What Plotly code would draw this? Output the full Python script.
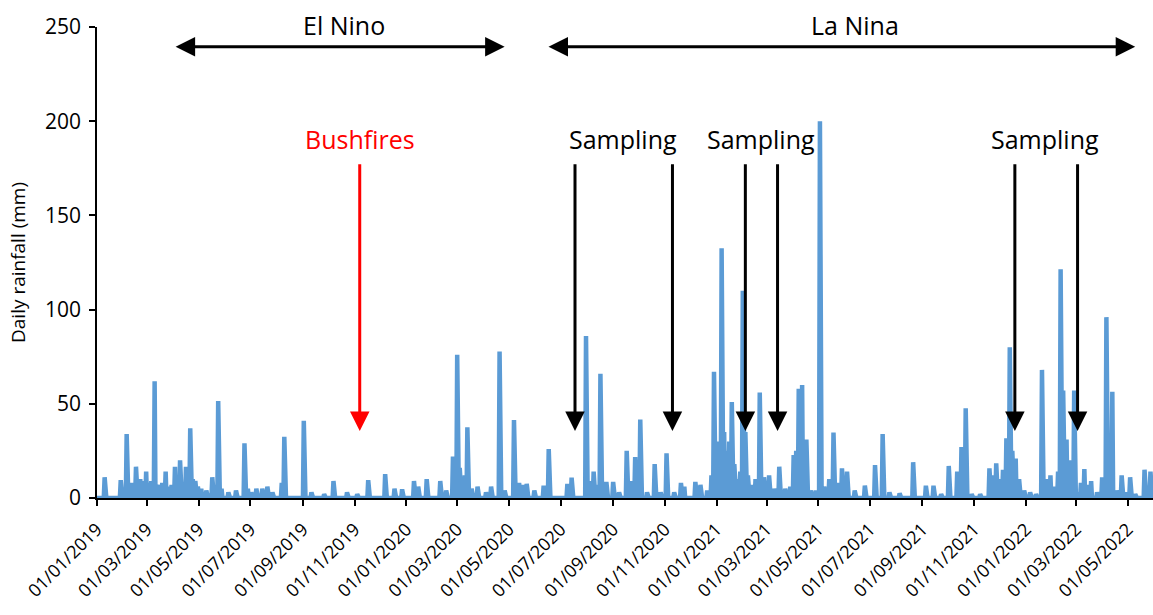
import pandas as pd
import plotly.graph_objects as go

# Rain events (dry days are 0 mm)
rain_dates = [
    "2019-01-10", "2019-01-29", "2019-02-05", "2019-02-08", "2019-02-11", "2019-02-13",
    "2019-02-16", "2019-02-19", "2019-02-21", "2019-02-24", "2019-02-28", "2019-03-03",
    "2019-03-06", "2019-03-10", "2019-03-13", "2019-03-16", "2019-03-19", "2019-03-23",
    "2019-03-27", "2019-03-30", "2019-04-03", "2019-04-06", "2019-04-09", "2019-04-12",
    "2019-04-16", "2019-04-21", "2019-04-24", "2019-04-27", "2019-04-30", "2019-05-04",
    "2019-05-10", "2019-05-17", "2019-05-24", "2019-05-28", "2019-06-05", "2019-06-14",
    "2019-06-24", "2019-06-28", "2019-07-02", "2019-07-08", "2019-07-15",
    "2019-07-21", "2019-07-27", "2019-08-07", "2019-08-10", "2019-09-02", "2019-09-11",
    "2019-09-26", "2019-10-07", "2019-10-23", "2019-11-04", "2019-11-17", "2019-12-07",
    "2019-12-18", "2019-12-27", "2020-01-10", "2020-01-15", "2020-01-25", "2020-02-10",
    "2020-02-17", "2020-02-25", "2020-02-28", "2020-03-01", "2020-03-04", "2020-03-07",
    "2020-03-10", "2020-03-13", "2020-03-18", "2020-03-25", "2020-04-04", "2020-04-10",
    "2020-04-20", "2020-04-26", "2020-05-07", "2020-05-10", "2020-05-13", "2020-05-17",
    "2020-05-22", "2020-05-31", "2020-06-11", "2020-06-17", "2020-07-09",
    "2020-07-14", "2020-07-31", "2020-08-04", "2020-08-09", "2020-08-13", "2020-08-17",
    "2020-08-24", "2020-09-01", "2020-09-08", "2020-09-17", "2020-09-22", "2020-09-27",
    "2020-10-03", "2020-10-11", "2020-10-20", "2020-10-27", "2020-11-03", "2020-11-12",
    "2020-11-20", "2020-11-24", "2020-12-07", "2020-12-13", "2020-12-21", "2020-12-26",
    "2020-12-29", "2021-01-02", "2021-01-04", "2021-01-07", "2021-01-10", "2021-01-12",
    "2021-01-14", "2021-01-16", "2021-01-19", "2021-01-22", "2021-01-26", "2021-01-29",
    "2021-02-01", "2021-02-04", "2021-02-07", "2021-02-11", "2021-02-16", "2021-02-21",
    "2021-02-26", "2021-03-04", "2021-03-10", "2021-03-16", "2021-03-23", "2021-03-29",
    "2021-04-02", "2021-04-05", "2021-04-08", "2021-04-12", "2021-04-15", "2021-04-17",
    "2021-04-22", "2021-04-28", "2021-05-03", "2021-05-08", "2021-05-14", "2021-05-19",
    "2021-05-24", "2021-05-29", "2021-06-04", "2021-06-13", "2021-06-25", "2021-07-07",
    "2021-07-16", "2021-07-24", "2021-08-05", "2021-08-21", "2021-09-05", "2021-09-14",
    "2021-09-23", "2021-10-02", "2021-10-12", "2021-10-17", "2021-10-22", "2021-10-29",
    "2021-11-08", "2021-11-19", "2021-11-23", "2021-11-27", "2021-12-01", "2021-12-05",
    "2021-12-09", "2021-12-13", "2021-12-16", "2021-12-20", "2021-12-24", "2021-12-30",
    "2022-01-06", "2022-01-13", "2022-01-20", "2022-01-26", "2022-01-30", "2022-02-04",
    "2022-02-08", "2022-02-11", "2022-02-14", "2022-02-18", "2022-02-21", "2022-02-23",
    "2022-02-27", "2022-03-03", "2022-03-07", "2022-03-11", "2022-03-15", "2022-03-19",
    "2022-03-26", "2022-04-01", "2022-04-06", "2022-04-09", "2022-04-13", "2022-04-18",
    "2022-04-24", "2022-04-29", "2022-05-04", "2022-05-10", "2022-05-21", "2022-05-28",
]
rain_mm = [
    11, 9.5, 34, 6, 8, 7,
    16.6, 8, 10, 9, 14, 8,
    9, 62, 7, 7, 8, 14,
    6, 7, 16.6, 9, 20, 8,
    16.6, 37, 10, 9, 6, 5,
    4, 11, 51.5, 5, 3, 4,
    29, 5, 3, 5, 5,
    6, 3, 8, 32.5, 41, 3,
    2, 9, 3, 2, 9.5, 12.7,
    5, 4.6, 9, 6, 10, 9,
    4, 22, 10, 76, 16, 8,
    12, 37.5, 5, 6, 3, 6,
    77.7, 4, 41.4, 7, 8, 7,
    7.5, 4, 6.6, 26, 7.5,
    10.8, 86, 9, 14, 7, 66,
    8.5, 8.5, 3, 25, 9, 21.7,
    41.7, 3, 18, 3, 23.7, 3,
    8, 6, 8.5, 7, 4, 12,
    67, 15, 30, 132.5, 35, 25,
    20, 30, 51, 18, 10, 14,
    110, 35, 12, 7, 10, 56,
    11, 12, 5, 16.6, 5, 6,
    22.8, 25, 58, 60, 30, 31,
    4, 4, 200, 6, 10, 34.7,
    8, 15.7, 14, 4, 6.6, 17.5,
    34, 3, 2.5, 19, 6.5, 6.5,
    2, 17, 14, 27, 47.6, 2,
    2, 15.7, 12, 18.4, 10, 15,
    31.7, 80, 25, 21, 10, 4,
    3, 2, 68, 10, 12, 6,
    14, 121.4, 57, 31, 20, 6,
    57, 3, 8, 15.4, 7, 9,
    3, 11, 96, 12, 56.4, 4,
    12, 3, 11, 2, 15, 14,
]

y_ticks = [0, 50, 100, 150, 200, 250]

period_labels = ["El Nino", "La Nina"]
period_label_dates = ["2019-10-20", "2021-06-13"]
period_spans = [("2019-04-02", "2020-04-26"), ("2020-06-15", "2022-05-10")]
sampling_dates = ["2020-07-18", "2020-11-10", "2021-02-04", "2021-03-14", "2021-12-19", "2022-03-03"]
sampling_label_dates = ["2020-09-13", "2021-02-22", "2022-01-24"]
bushfire_date = "2019-11-07"

# Daily series: days without a recorded event are dry (0 mm)
days = pd.date_range("2019-01-01", "2022-05-31", freq="D")
series = pd.Series(0.0, index=days)
series.loc[pd.to_datetime(rain_dates)] = rain_mm

FONT = "Open Sans"
BLUE = "#5B9BD5"
TXT = 25

fig = go.Figure()
fig.add_trace(go.Scatter(
    x=series.index, y=series.values, mode="lines",
    line=dict(color=BLUE, width=4.5), showlegend=False, hoverinfo="x+y",
))

ann = []
# Period double arrows
for lab, ld, (s, e) in zip(period_labels, period_label_dates, period_spans):
    ann.append(dict(x=e, y=239.5, ax=s, ay=239.5, xref="x", yref="y", axref="x", ayref="y",
                    showarrow=True, arrowhead=2, arrowsize=1.3, arrowwidth=3, arrowside="end+start",
                    arrowcolor="black", text=""))
    ann.append(dict(x=ld, y=1.005, xref="x", yref="paper", yanchor="middle", text=lab, showarrow=False,
                    font=dict(family=FONT, size=TXT, color="black")))

# Bushfires
ann.append(dict(x=bushfire_date, y=35.5, ax=bushfire_date, ay=178, xref="x", yref="y", axref="x", ayref="y",
                showarrow=True, arrowhead=2, arrowsize=1.3, arrowwidth=3, arrowcolor="#FF0000", text=""))
ann.append(dict(x=bushfire_date, y=190.5, xref="x", yref="y", text="Bushfires", showarrow=False,
                font=dict(family=FONT, size=TXT, color="#FF0000")))

# Sampling arrows
for d in sampling_dates:
    ann.append(dict(x=d, y=35.5, ax=d, ay=178, xref="x", yref="y", axref="x", ayref="y",
                    showarrow=True, arrowhead=2, arrowsize=1.3, arrowwidth=3, arrowcolor="black", text=""))
for d in sampling_label_dates:
    ann.append(dict(x=d, y=190.5, xref="x", yref="y", text="Sampling", showarrow=False,
                    font=dict(family=FONT, size=TXT, color="black")))

fig.update_layout(
    width=1153, height=615,
    margin=dict(l=97, r=0, t=27, b=117),
    paper_bgcolor="white", plot_bgcolor="white",
    font=dict(family=FONT, color="black"),
    annotations=ann,
    xaxis=dict(
        type="date", range=["2019-01-01", "2022-05-31"],
        tick0="2019-01-01", dtick="M2", tickformat="%d/%m/%Y", tickangle=-45,
        showgrid=False, zeroline=False, showline=True, linecolor="black", linewidth=1.5,
        ticks="outside", ticklen=6, tickcolor="black", tickwidth=1.5,
        ticklabelstandoff=6,
        tickfont=dict(family=FONT, size=18, color="black"),
    ),
    yaxis=dict(
        range=[0, 250], tickvals=y_ticks,
        showgrid=False, zeroline=False, showline=True, linecolor="black", linewidth=1.5,
        ticks="outside", ticklen=6, tickcolor="black", tickwidth=1.5,
        ticklabelstandoff=4,
        tickfont=dict(family=FONT, size=21, color="black"),
        title=dict(text="Daily rainfall (mm)", font=dict(family=FONT, size=19, color="black"), standoff=14),
    ),
)

fig.write_html("out.html", config={"displayModeBar": False})
with open("out.html", "r", encoding="utf-8") as f:
    html = f.read()
html = html.replace("<body>", '<body style="margin:0;overflow:hidden">', 1)
with open("out.html", "w", encoding="utf-8") as f:
    f.write(html)
